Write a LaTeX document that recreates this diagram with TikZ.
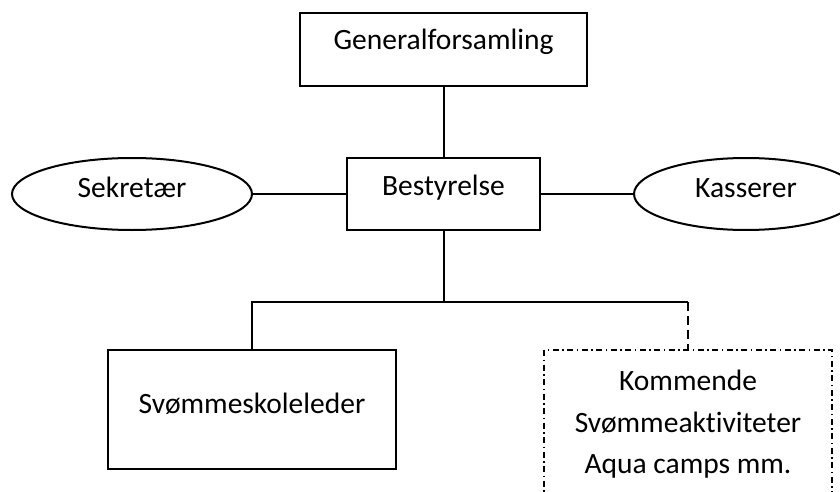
\documentclass[tikz,border=0pt]{standalone}
\usepackage{fontspec}
\setmainfont{Carlito}[Ligatures=NoCommon]
\usetikzlibrary{shapes.geometric}
\begin{document}
\begin{tikzpicture}[x=1pt,y=-1pt,
  every node/.style={font=\fontsize{29.5}{41.5}\selectfont, inner sep=0pt, line width=2pt},
  orgbox/.style={draw, rectangle},
  roleell/.style={draw, ellipse},
  link/.style={line width=2pt},
  futurelink/.style={line width=2pt, dash pattern=on 9pt off 5pt},
  futurebox/.style={draw, rectangle, dash pattern=on 6pt off 3.5pt on 1.5pt off 3.5pt, align=center}
]
\useasboundingbox (0,0) rectangle (840,492);
\fill[white] (0,0) rectangle (840,492);

\node[orgbox, minimum width=287pt, minimum height=73pt, text height=0.4em, text depth=0.4em]
  (gen) at (443.5,49.5) {Generalforsamling};
\node[orgbox, minimum width=193pt, minimum height=72pt, text height=0.7em, text depth=0.49em]
  (best) at (443.5,194) {Bestyrelse};
\node[roleell, minimum width=240pt, minimum height=72pt, text height=0.7em, text depth=0.08em]
  (sek) at (132,194) {Sekretær};
\node[roleell, minimum width=224pt, minimum height=72pt, text height=0.7em, text depth=0em]
  (kas) at (746,194) {Kasserer};
\node[orgbox, minimum width=288pt, minimum height=119pt, text height=0.72em, text depth=0em]
  (svs) at (252,409.5) {Svømmeskoleleder};
\node[futurebox, minimum width=288pt, minimum height=149pt]
  (fut) at (688,424.5) {Kommende\\Svømmeaktiviteter\\Aqua camps mm.};

\coordinate (split) at (443.5,302);
\coordinate (splitR) at (fut.north |- split);

\draw[link] (gen) -- (best);
\draw[link] (sek) -- (best);
\draw[link] (best) -- (kas);
\draw[link] (best) -- (split);
\draw[link] (svs.north) |- (split);
\draw[link] (split) -- (splitR);
\draw[futurelink] (splitR) -- (fut.north);
\end{tikzpicture}
\end{document}
